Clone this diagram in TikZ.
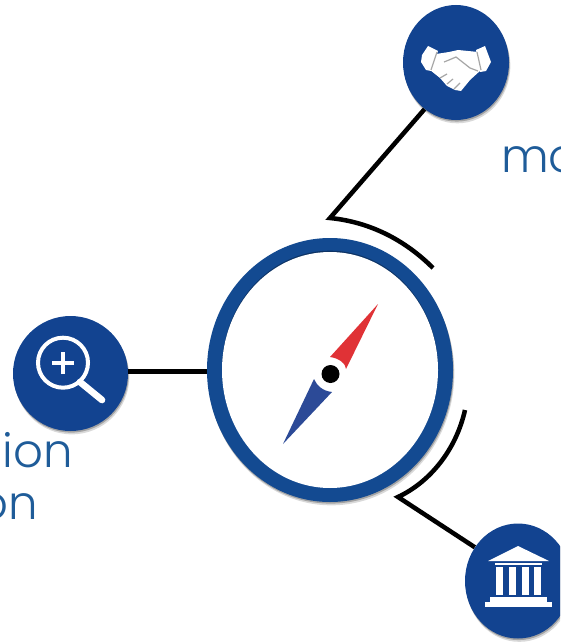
\documentclass[tikz,border=0pt]{standalone}
\usepackage{fontspec}
\setmainfont{Poppins Light}
\usetikzlibrary{shapes.geometric,shadows}
\definecolor{navy}{HTML}{124390}
\definecolor{ringblue}{HTML}{134A91}
\definecolor{labelblue}{HTML}{1F5C99}
\definecolor{needlered}{HTML}{E03236}
\definecolor{needleblue}{HTML}{2C4A97}
\tikzset{
  softshadow/.style={drop shadow={shadow xshift=1pt,shadow yshift=-2.5pt,opacity=.15,fill=black},
                     drop shadow={shadow xshift=.5pt,shadow yshift=-1.2pt,opacity=.25,fill=black}},
  iconnode/.style={ellipse,fill=navy,minimum width=79.5pt,minimum height=86.25pt,inner sep=0pt,softshadow},
  ringnode/.style={ellipse,fill=ringblue,minimum width=184.5pt,minimum height=198pt,inner sep=0pt,softshadow},
  hubnode/.style={ellipse,fill=white,minimum width=162pt,minimum height=177pt,inner sep=0pt,drop shadow={shadow xshift=0pt,shadow yshift=1pt,opacity=.3,fill=black}},
  link/.style={draw=black,line width=3.4pt},
  lab/.style={text=labelblue,font=\fontsize{35pt}{35pt}\selectfont,inner sep=0pt},
  whiteline/.style={draw=white,line cap=round},
}
\begin{document}
\begin{tikzpicture}[x=0.75pt,y=-0.75pt]
\useasboundingbox (0,0) rectangle (560,642);
\clip (0,0) rectangle (560,642);
\node[iconnode] (shake) at (456,62.5) {};
\node[iconnode,minimum width=86.25pt] (lens) at (70.5,373.5) {};
\node[iconnode] (temple) at (518,581) {};
\node[ringnode] (ring) at (330,370) {};
\node[hubnode] (hub) at (330,370) {};
\node[lab,anchor=base west] (mo) at (501,172) {mo};
\node[lab,anchor=base east] (tion) at (73,467) {tion};
\node[lab,anchor=base east] (on) at (38,519) {on};
\coordinate (topknee) at (330,218);
\coordinate (topend) at (433,268);
\coordinate (botknee) at (398,497);
\coordinate (botend) at (465,410);
\draw[link] (shake.236) -- (topknee) .. controls (370,222) and (405,240) .. (topend);
\draw[link] (temple.142) -- (botknee) .. controls (430,482) and (456,450) .. (botend);
\draw[link] (lens.2) -- (ring.west |- lens.2);
% compass needle
\fill[needlered] (378,304) -- (346,369) .. controls (346,364) and (339,358) .. (330,357) -- cycle;
\fill[needleblue] (283,444) -- (314,379) .. controls (317,386) and (323,391) .. (332,392) -- cycle;
\fill[black] (330.5,374) circle (9);
% handshake
\fill[white] (422,55) -- (428,46) -- (438,51) -- (431,71) -- (426,70) -- (421,62) -- cycle;
\fill[white] (476,50) -- (485,46) -- (491,62) -- (486,71) -- (480,72) -- cycle;
\fill[white] (436,54) -- (449,52) -- (458,50) -- (468,51) -- (478,52) -- (481,70) -- (470,80) -- (461,91) -- (455,90) -- (447,86) -- (440,78) -- (430,70) -- cycle;
\draw[gray!70,line width=.9pt] (437,52) -- (431,70) (477,52) -- (481,70);
\draw[gray!70,line width=.9pt] (478,71) -- (470,68) -- (456,57) -- (449,60) -- (444,62) (440,78) -- (447,74) (447,84) -- (453,79) (454,89) -- (460,83);
% magnifier
\draw[whiteline,line width=3pt] (63,362.7) circle (25);
\draw[whiteline,line width=5pt] (80,382) -- (102,400);
\draw[whiteline,line width=2.6pt,line cap=butt] (52,363) -- (74,363) (63,352) -- (63,374);
% temple
\fill[white] (488,561) -- (518,546) -- (549,561) -- cycle;
\fill[white] (495,563) rectangle (542,565);
\foreach \cx in {496,509,522,534}{\fill[white] (\cx,567) rectangle ++(7,28);}
\fill[white] (490,597) rectangle (547,602);
\fill[white] (485,602) rectangle (552,607);
\end{tikzpicture}
\end{document}
